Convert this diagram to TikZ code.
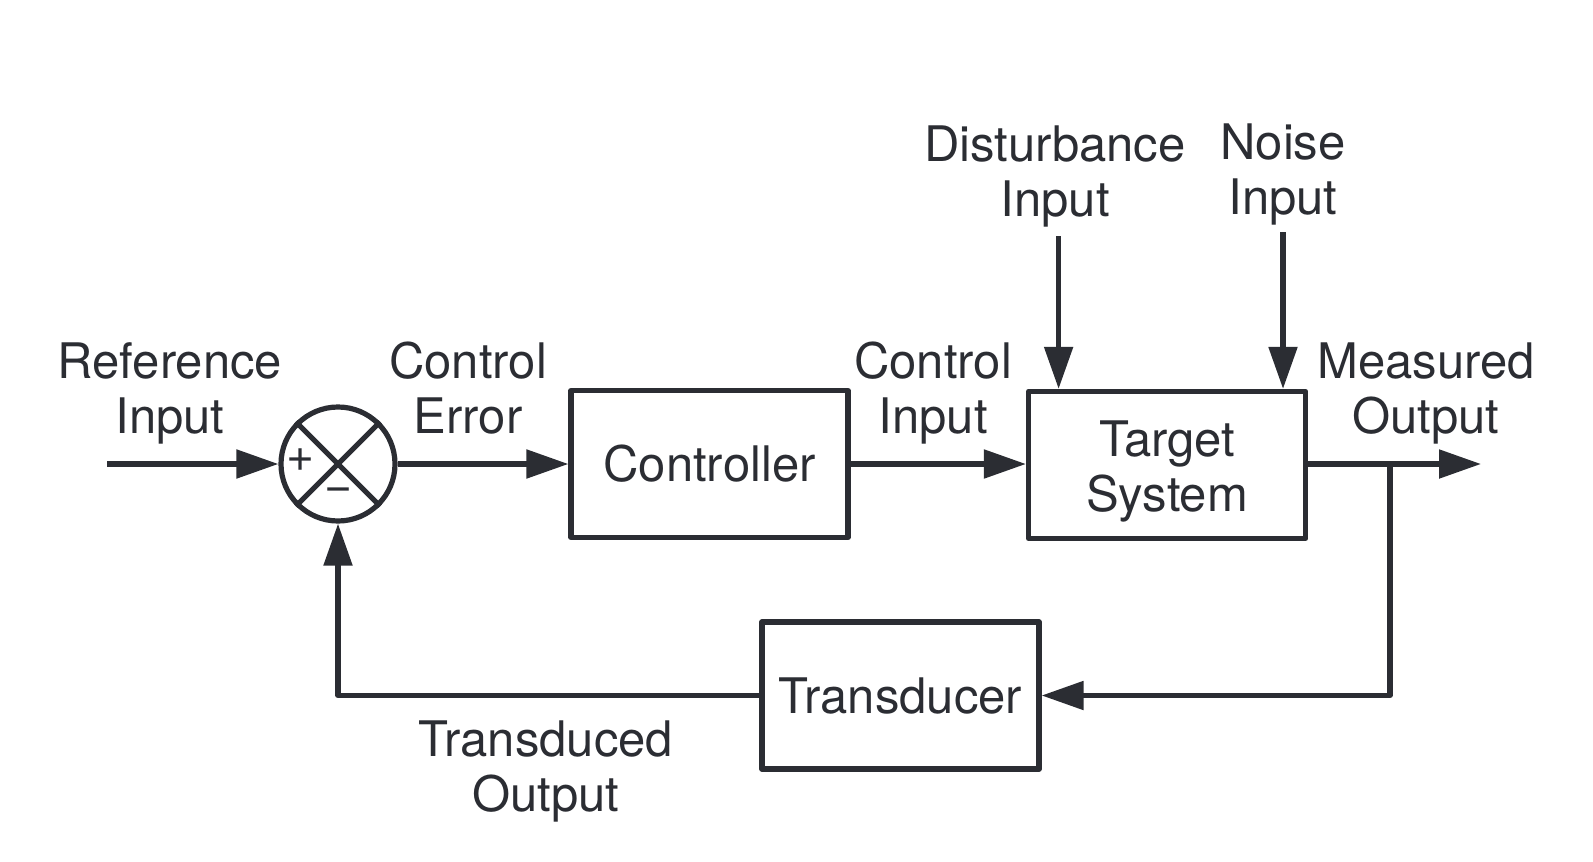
\documentclass[tikz,border=0pt]{standalone}
\usepackage{fontspec}
\setmainfont{TeX Gyre Heros}
\usetikzlibrary{arrows.meta}
\definecolor{ink}{HTML}{2B2D33}
\begin{document}
\begin{tikzpicture}[x=0.5pt,y=-0.5pt,
  line width=2.6pt, draw=ink, line join=round,
  every node/.style={text=ink, font=\fontsize{24.5}{27.5}\selectfont},
  blk/.style={draw=ink, line width=2.6pt, rectangle, inner sep=0pt, align=center,
    minimum width=138.5pt, minimum height=73.5pt},
  lbl/.style={align=center, inner sep=0pt},
  arr/.style={draw=ink, -{Triangle[length=21pt,width=14pt]}},
  sgn/.style={inner sep=0pt, font=\fontsize{24}{24}\selectfont},
]
\useasboundingbox (0,0) rectangle (1593,861);
% blocks
\node[blk] (ctrl) at (709.5,464) {Controller};
\node[blk] (tgt) at (1167,465) {};
\node[lbl] (tgttext) at (1167,471) {Target\\System};
\node[blk] (trans) at (900.5,695.5) {Transducer};
\node[draw=ink, circle, line width=2.6pt, minimum size=57pt, inner sep=0pt] (sum) at (338,464) {};
\draw[line width=2.6pt] (sum.45) -- (sum.225) (sum.135) -- (sum.315);
\node[sgn] (plus) at (301,460) {+};
\node[sgn] (minus) at (339,495) {−};
% labels
\node[lbl] (lref) at (170,393) {Reference\\Input};
\node[lbl] (lerr) at (468,388) {Control\\Error};
\node[lbl] (lcin) at (933,393) {Control\\Input};
\node[lbl] (ldist) at (1055,176) {Disturbance\\Input};
\node[lbl] (lnoise) at (1283,174) {Noise\\Input};
\node[lbl] (lmeas) at (1426,393) {Measured\\Output};
\node[lbl] (ltrans) at (546,771) {Transduced\\Output};
% coordinates
\coordinate (rin) at (107,464);
\coordinate (out) at (1481,464);
\coordinate (br) at (1390,464);
\coordinate (dtop) at (1058.6,236);
\coordinate (ntop) at (1283,232);
% connectors
\draw[arr] (rin) -- (sum.west);
\draw[arr] (sum.east) -- (ctrl.west);
\draw[arr] (ctrl.east) -- (ctrl.east -| tgt.west);
\draw[arr] (tgt.east |- out) -- (out);
\draw[arr] (br) |- (trans.east);
\draw[arr] (trans.west) -| (sum.south);
\draw[arr] (dtop) -- (dtop |- tgt.north);
\draw[arr] (ntop) -- (ntop |- tgt.north);
\end{tikzpicture}
\end{document}
